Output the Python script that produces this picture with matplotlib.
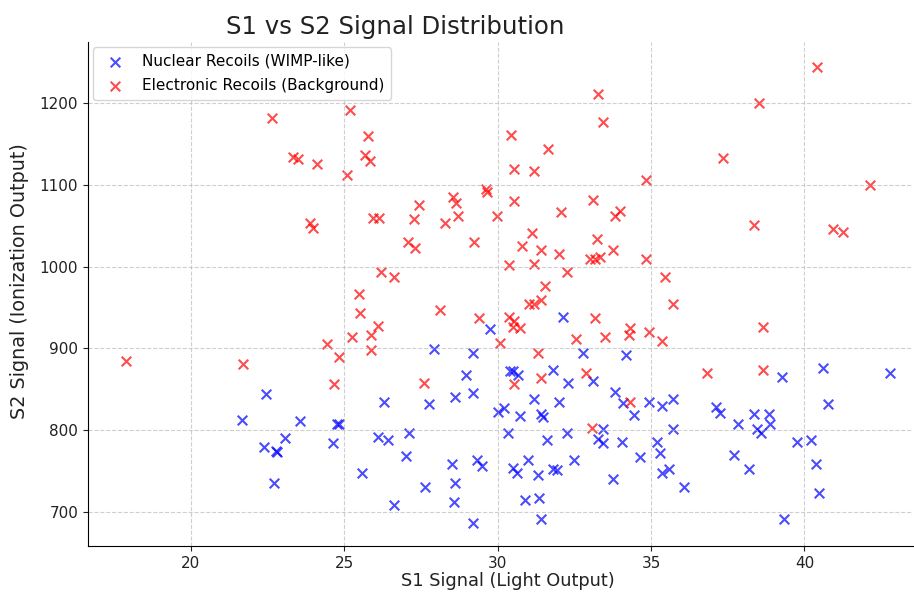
import numpy as np
import matplotlib.pyplot as plt

# Nuclear recoils (WIMP-like) - S1, S2
nr_s1 = [29.74, 27.92, 29.19, 28.96, 30.39,
         32.12, 32.77, 34.2, 31.79, 30.68, 30.49, 32.28, 33.1,
         39.28, 40.59, 42.8,
         22.44, 21.66, 23.55, 23.06, 22.38, 22.77, 22.8, 22.7,
         26.29, 27.75, 28.6, 29.19, 24.76, 24.82, 30.0, 30.2, 24.63, 26.09, 26.42, 27.1,
         27.0, 28.5, 29.32, 29.48, 25.57, 27.62, 28.6, 28.57, 26.61, 29.19, 30.33,
         31.2, 31.99, 33.84, 34.1, 34.46, 34.95, 35.37, 35.73, 30.72, 31.4, 31.47, 32.25,
         33.42, 31.6, 33.26, 33.45, 34.04, 35.21, 35.73, 35.28, 34.63, 30.98, 32.48, 30.49,
         30.62, 31.3, 31.82, 31.92, 35.6, 35.37, 33.75, 36.06, 30.88, 31.34, 31.4, 37.13, 37.26,
         40.78, 38.34, 38.86, 37.82, 38.44, 38.57, 38.89, 39.77, 40.2, 37.72, 38.18, 40.39,
         40.46, 39.35]
nr_s2 = [924, 899, 894, 868, 872,
         938, 894, 892, 874, 868, 873, 858, 860,
         865, 876, 870,
         844, 813, 811, 791, 779, 775, 773, 735,
         835, 832, 840, 846, 808, 807, 822, 827, 784, 792, 788, 796,
         768, 759, 764, 756, 747, 731, 735, 712, 708, 686, 797,
         838, 834, 847, 833, 819, 834, 830, 838, 817, 820, 816, 797,
         802, 788, 789, 784, 785, 786, 802, 772, 767, 763, 763, 754,
         747, 745, 752, 751, 753, 747, 740, 730, 715, 717, 691, 828, 821,
         832, 820, 820, 808, 802, 797, 808, 785, 788, 769, 753, 758,
         723, 691]

# Electronic recoils (background) - S1, S2
er_s1 = [17.88, 21.69, 22.64, 23.32, 23.49, 24.1, 23.88, 23.99, 24.43, 24.66,
         24.82, 25.18, 25.08, 25.24, 25.47, 25.5, 25.67, 25.77, 25.83, 25.86,
         25.86, 25.93, 26.12, 26.09, 26.19, 26.61, 27.07, 27.26, 27.3, 27.43,
         27.59, 28.11, 28.3, 28.53, 28.63, 28.7, 29.22, 29.38, 29.61, 29.67,
         29.97, 30.07, 30.36, 30.36, 30.42, 30.52, 30.49, 30.72, 30.52, 30.55,
         30.52,
         32.08, 33.84, 34.0, 31.11, 30.81, 31.43, 31.99, 33.23, 33.75, 33.0,
         33.16, 33.33, 34.82, 31.17, 32.25, 35.47, 31.53, 35.73, 31.01, 31.17,
         31.43, 33.16, 34.3, 34.27, 34.92, 35.37, 32.57, 33.49, 31.3, 36.84,
         31.43, 32.87,
         33.26, 33.45, 31.63, 31.17, 34.82, 37.33, 33.1,
         40.42, 38.53, 42.15,
         38.34, 40.94, 41.27, 38.66, 38.66,
         34.3, 33.06]
er_s2 = [885, 881, 1182, 1134, 1132, 1126, 1054, 1047, 905, 856,
         889, 1192, 1112, 914, 967, 943, 1137, 1160, 1129, 917,
         898, 1060, 1060, 927, 994, 987, 1030, 1058, 1023, 1076,
         858, 947, 1054, 1085, 1078, 1062, 1030, 937, 1095, 1091,
         1062, 907, 1002, 938, 1161, 933, 926, 925, 1120, 1081,
         856,
         1067, 1062, 1068, 1041, 1025, 1021, 1016, 1034, 1020, 1009,
         1010, 1012, 1009, 1003, 993, 988, 976, 955, 955, 954,
         959, 937, 925, 916, 920, 909, 911, 914, 894, 870,
         864, 870,
         1211, 1177, 1144, 1117, 1106, 1133, 1082,
         1244, 1201, 1100,
         1051, 1046, 1043, 926, 874,
         834, 803]

fig = plt.figure(figsize=(9.14, 5.93), dpi=100)
ax = fig.add_axes([0.0963, 0.079, 0.903, 0.85])

ax.scatter(nr_s1, nr_s2, color='blue', marker='x', alpha=0.7, s=48, label='Nuclear Recoils (WIMP-like)')
ax.scatter(er_s1, er_s2, color='red', marker='x', alpha=0.7, s=48, label='Electronic Recoils (Background)')

ax.set_xlim(16.65, 43.55)
ax.set_ylim(658, 1275)
ax.set_xticks([20, 25, 30, 35, 40])
ax.set_yticks([700, 800, 900, 1000, 1100, 1200])
ax.tick_params(labelsize=11, colors='#222222')

# title sits left of the axes centre in the reference
ax.set_title('S1 vs S2 Signal Distribution', fontsize=17.6, x=0.372, color='#222222')
ax.set_xlabel('S1 Signal (Light Output)', fontsize=12.8, color='#222222')
ax.set_ylabel('S2 Signal (Ionization Output)', fontsize=13.8, color='#222222')
ax.xaxis.set_label_coords(0.509, -0.052)
ax.yaxis.set_label_coords(-0.072, 0.525)
ax.legend(loc='upper left', fontsize=11, borderaxespad=0.35, labelspacing=0.65)
ax.grid(True, linestyle='--', alpha=0.6)

ax.spines['top'].set_visible(False)
ax.spines['right'].set_visible(False)

fig.savefig('out.png', dpi=100)
